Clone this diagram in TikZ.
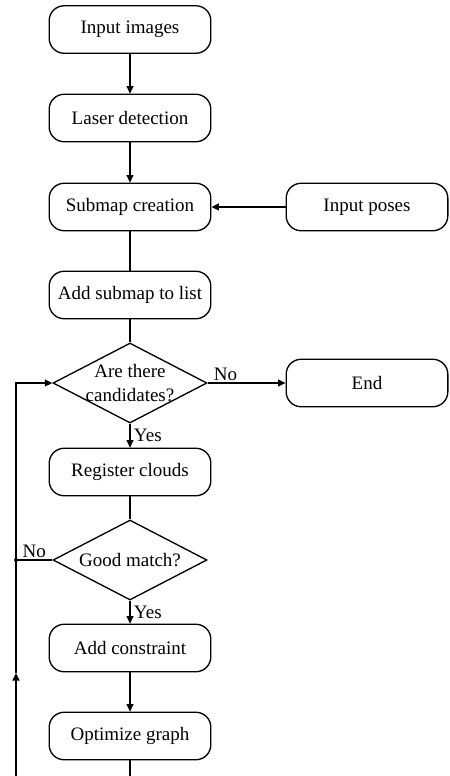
\documentclass[tikz,border=0pt]{standalone}
\usepackage{fontspec}
\setmainfont{Liberation Serif}
\usetikzlibrary{arrows.meta, shapes.geometric, positioning, calc}

\begin{document}
\begin{tikzpicture}[x=0.6pt, y=-0.6pt, line width=0.8pt,
    font=\fontsize{11.4}{14.4}\selectfont,
    >={Triangle[length=4.5pt, width=4.2pt]},
    block/.style={draw, rounded corners=9pt, minimum width=97pt, minimum height=28.5pt, inner sep=2pt},
    choice/.style={draw, diamond, minimum width=92.4pt, minimum height=48pt, inner sep=0pt}]
      \useasboundingbox (0, 0) rectangle (449, 776);

      \node[block] (input) at (130, 29.5) {Input images};
      \node[block] (laser) at (130, 118) {Laser detection};
      \node[block] (submap) at (130, 207) {Submap creation};
      \node[block] (poses) at (367, 207) {Input poses};
      \node[block] (addmap) at (130, 295) {Add submap to list};
      \node[choice, label={[align=center]center:Are there\\candidates?}] (cand) at (130, 383) {};
      \node[block] (fin) at (367, 383) {End};
      \node[block] (reg) at (130, 472) {Register clouds};
      \node[choice, label=center:Good match?] (match) at (130, 560) {};
      \node[block] (constr) at (130, 648) {Add constraint};
      \node[block] (optim) at (130, 736) {Optimize graph};

      \coordinate (loopB) at (130, 800);
      \coordinate (loopL) at (16, 800);
      \coordinate (loopM) at (16, 673);
      \coordinate (join) at (16, 560);

      \draw[->] (input) -- (laser);
      \draw[->] (laser) -- (submap);
      \draw[->] (poses) -- (submap);
      \draw (addmap) -- (submap);
      \draw (addmap) -- (cand);
      \draw[->] (cand) -- node[pos=0.05, anchor=south west, inner sep=1pt] {No} (fin);
      \draw[->] (cand) -- node[right, inner sep=2pt] {Yes} (reg);
      \draw (reg) -- (match);
      \draw[->] (match) -- node[right, inner sep=2pt] {Yes} (constr);
      \draw[->] (constr) -- (optim);
      \draw (match) -- node[above, inner sep=1pt] {No} (join);
      \fill (join) circle (2);

      % loop back to the candidates test
      \draw (optim) -- (loopB) -- (loopL);
      \draw[->] (loopL) -- (loopM);
      \draw[->] (loopM) |- (cand);
    \end{tikzpicture}
\end{document}
